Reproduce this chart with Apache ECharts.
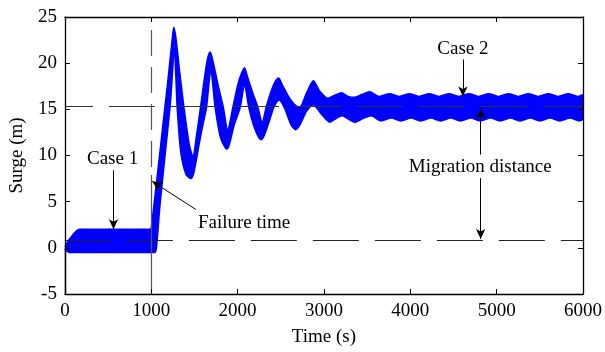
<!DOCTYPE html>
<html>
<head>
<meta charset="utf-8">
<script src="https://cdn.jsdelivr.net/npm/echarts@6/dist/echarts.min.js"></script>
<style>
html,body{margin:0;padding:0;background:#fff;}
#chart{width:605px;height:352px;}
</style>
</head>
<body>
<div id="chart"></div>
<script>
// ---- data ----
const xTicks = [0, 1000, 2000, 3000, 4000, 5000, 6000];
const yTicks = [-5, 0, 5, 10, 15, 20, 25];

// upper envelope of the surge band (time s, surge m)
const upperT = [0, 50, 170, 900, 990, 1000, 1060, 1130, 1190, 1235, 1261, 1285, 1330, 1379, 1440, 1482, 1525, 1570, 1610, 1650, 1682, 1715, 1775, 1835, 1885, 1945, 2000, 2045, 2080, 2115, 2175, 2235, 2285, 2330, 2390, 2440, 2475, 2520, 2590, 2650, 2715, 2800, 2877, 2950, 3046, 3120, 3203, 3280, 3356, 3440, 3529,
  3640, 3760, 3870, 3990, 4100, 4220, 4330, 4450, 4560, 4680, 4790, 4910, 5020, 5140, 5250, 5370, 5480, 5600, 5710, 5830, 5940, 6000];
const upperV = [0.1, 0.9, 2.0, 2.0, 2.0, 2.2, 7.0, 12.9, 17.9, 21.9, 23.9, 22.8, 19.0, 15.2, 11.2, 9.9, 12.2, 15.2, 18.0, 20.4, 21.2, 20.2, 17.6, 15.2, 12.8, 15.2, 17.6, 18.9, 19.5, 18.5, 16.8, 15.2, 13.6, 15.2, 17.0, 18.1, 18.4, 17.6, 16.4, 15.6, 15.2, 16.8, 18.1, 17.0, 16.2, 16.5, 16.8, 16.4, 16.3, 16.6, 16.9,
  16.4, 16.7, 16.4, 16.7, 16.4, 16.7, 16.4, 16.7, 16.4, 16.7, 16.4, 16.7, 16.4, 16.7, 16.4, 16.7, 16.4, 16.7, 16.4, 16.7, 16.4, 16.6];

// lower envelope of the surge band
const lowerT = [0, 50, 80, 1000, 1040, 1060, 1100, 1160, 1220, 1250, 1265, 1285, 1300, 1340, 1400, 1460, 1495, 1560, 1600, 1640, 1690, 1740, 1800, 1874, 1905, 1960, 2030, 2080, 2130, 2180, 2230, 2272, 2310, 2370, 2420, 2480, 2540, 2620, 2670, 2720, 2800, 2877, 2960, 3069, 3140, 3210, 3290, 3356, 3450, 3548,
  3660, 3780, 3890, 4010, 4120, 4240, 4350, 4470, 4580, 4700, 4810, 4930, 5040, 5160, 5270, 5390, 5500, 5620, 5730, 5850, 5960, 6000];
const lowerV = [-0.1, -0.5, -0.5, -0.5, -0.5, 0.0, 4.5, 10.0, 15.5, 19.5, 22.0, 18.5, 15.2, 10.5, 8.0, 7.5, 8.2, 11.5, 13.4, 15.2, 19.2, 15.2, 12.0, 10.7, 11.2, 13.3, 15.2, 17.6, 15.2, 13.4, 12.2, 11.7, 12.2, 13.8, 15.2, 16.0, 15.2, 13.3, 12.8, 13.3, 14.8, 15.5, 14.6, 13.6, 14.0, 14.3, 13.9, 13.6, 14.0, 14.3,
  13.75, 14.05, 13.75, 14.05, 13.75, 14.05, 13.75, 14.05, 13.75, 14.05, 13.75, 14.05, 13.75, 14.05, 13.75, 14.05, 13.75, 14.05, 13.75, 14.05, 13.75, 13.9];

const case2Level = 15.3;     // upper dashed reference level
const case1Level = 0.8;      // lower dashed reference level
const failureTime = 1000;

// ---- chart ----
const FONT = '"Liberation Serif", "Times New Roman", serif';
const chart = echarts.init(document.getElementById('chart'), null, {renderer: 'canvas'});

function axisCommon(show) {
  return {
    axisLine: {show: true, onZero: false, lineStyle: {color: '#000', width: 1.3}},
    axisTick: {show: true, inside: true, length: 5, lineStyle: {color: '#000', width: 1}},
    axisLabel: {show: show, color: '#000', fontFamily: FONT, fontSize: 19, formatter: function (v) { return String(v); }},
    splitLine: {show: false}
  };
}

const ann = {color: '#000', width: 1, type: 'solid'};
function arrow(p0, p1) {
  return [{coord: p0, symbol: 'none', lineStyle: ann}, {coord: p1, symbol: 'arrow', symbolSize: [7, 10]}];
}
function pairs(ts, vs) { return ts.map(function (t, i) { return [t, vs[i]]; }); }

const BLUE = '#0000ff';

const option = {
  animation: false,
  backgroundColor: '#fff',
  grid: {left: 63, right: 20, top: 17, bottom: 53, containLabel: false},
  xAxis: [
    Object.assign(axisCommon(true), {
      type: 'value', min: xTicks[0], max: xTicks[xTicks.length - 1], interval: 1000, position: 'bottom', z: 10,
      name: 'Time (s)', nameLocation: 'middle', nameGap: 34,
      nameTextStyle: {color: '#000', fontFamily: FONT, fontSize: 19}
    }),
    Object.assign(axisCommon(false), {
      type: 'value', min: xTicks[0], max: xTicks[xTicks.length - 1], interval: 1000, position: 'top', z: 10
    })
  ],
  yAxis: [
    Object.assign(axisCommon(true), {
      type: 'value', min: yTicks[0], max: yTicks[yTicks.length - 1], interval: 5, position: 'left', z: 10,
      name: 'Surge (m)', nameLocation: 'middle', nameGap: 36, nameRotate: 90,
      nameTextStyle: {color: '#000', fontFamily: FONT, fontSize: 19}
    }),
    Object.assign(axisCommon(false), {
      type: 'value', min: yTicks[0], max: yTicks[yTicks.length - 1], interval: 5, position: 'right', z: 10
    })
  ],
  series: [
    {
      name: 'upper',
      type: 'line',
      z: 2,
      data: pairs(upperT, upperV),
      showSymbol: false,
      symbol: 'none',
      smooth: 0.25,
      lineStyle: {color: BLUE, width: 1.5},
      areaStyle: {color: BLUE, opacity: 1, origin: 'start'}
    },
    {
      name: 'lower',
      type: 'line',
      z: 3,
      data: pairs(lowerT, lowerV),
      showSymbol: false,
      symbol: 'none',
      smooth: 0.25,
      lineStyle: {color: BLUE, width: 1.5},
      areaStyle: {color: '#ffffff', opacity: 1, origin: 'start'}
    },
    {
      type: 'line',
      z: 5,
      data: [],
      markLine: {
        silent: true,
        animation: false,
        label: {show: false},
        symbol: ['none', 'none'],
        data: [
          [{coord: [0, case2Level], lineStyle: {color: '#333', width: 1, type: [46, 16], dashOffset: 18}}, {coord: [6000, case2Level]}],
          [{coord: [0, case1Level], lineStyle: {color: '#222', width: 1, type: [46, 16], dashOffset: 0}}, {coord: [6000, case1Level]}],
          [{coord: [failureTime, 23.6], lineStyle: {color: '#555', width: 1.2, type: [26, 11]}}, {coord: [failureTime, 7.9]}],
          [{coord: [failureTime, 7.9], lineStyle: {color: '#555', width: 1.2, type: 'solid'}}, {coord: [failureTime, -5]}],
          [{coord: [0, 0], lineStyle: {color: '#000', width: 1.3, type: 'solid'}}, {coord: [0, -5]}],
          arrow([563, 8.4], [563, 2.0]),
          arrow([1517, 4.15], [1011, 7.2]),
          arrow([4609, 20.4], [4609, 16.4]),
          arrow([4815, 10.1], [4815, 15.1]),
          arrow([4815, 7.55], [4815, 0.96])
        ]
      },
      markPoint: {
        silent: true,
        symbol: 'rect',
        symbolSize: 1,
        itemStyle: {color: 'rgba(0,0,0,0)'},
        label: {show: true, position: 'inside', formatter: '{b}', color: '#000', fontFamily: FONT, fontSize: 19},
        data: [
          {name: 'Case 1', coord: [552, 9.6]},
          {name: 'Failure time', coord: [2075, 2.7]},
          {name: 'Case 2', coord: [4609, 21.5]},
          {name: 'Migration distance', coord: [4810, 8.7]}
        ]
      }
    }
  ]
};
chart.setOption(option);
</script>
</body>
</html>
